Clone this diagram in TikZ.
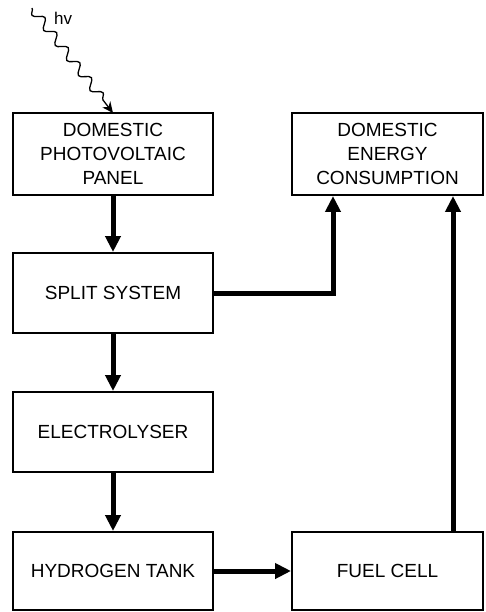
\documentclass[tikz,border=0pt]{standalone}
\usepackage{fontspec}
\setmainfont{Liberation Sans}
\usepackage{tikz}
\usetikzlibrary{arrows.meta,positioning,decorations.pathmorphing}

\begin{document}
\begin{tikzpicture}[x=1pt, y=-1pt,
    block/.style={draw, line width=2pt, align=center, inner sep=0pt,
      minimum height=80pt, font=\fontsize{19}{24}\selectfont},
    flow/.style={line width=5pt, -{Triangle[length=16pt,width=15pt]}},
    photon/.style={line width=1.3pt, -{Stealth[length=11pt,width=10pt]},
      decorate, decoration={snake, mirror, amplitude=4.5pt, segment length=19pt, post length=8pt}}]
  \useasboundingbox (0,0) rectangle (485,612);

  % left column
  \node[block, minimum width=200pt, minimum height=82pt] (pv) at (113,154) {DOMESTIC\\PHOTOVOLTAIC\\PANEL};
  \node[block, minimum width=200pt] (split) at (113,293) {SPLIT SYSTEM};
  \node[block, minimum width=200pt] (elec) at (113,432) {ELECTROLYSER};
  \node[block, minimum width=200pt, minimum height=78pt] (tank) at (113,571) {HYDROGEN TANK};

  % right column
  \node[block, minimum width=191pt, minimum height=82pt] (dec) at (387.5,154) {DOMESTIC\\ENERGY\\CONSUMPTION};
  \node[block, minimum width=191pt, minimum height=78pt] (fc) at (387.5,571) {FUEL CELL};

  % incoming light
  \coordinate (sun) at (32,8);
  \draw[photon] (sun) -- ([yshift=-1pt]pv.north);
  \node[font=\fontsize{17}{18}\selectfont, anchor=west, inner sep=0pt] (hv) at (54,18) {hv};

  % energy flows
  \draw[flow] (pv) -- (split);
  \draw[flow] (split.east) -| ([xshift=-54.5pt]dec.south);
  \draw[flow] (split) -- (elec);
  \draw[flow] (elec) -- (tank);
  \draw[flow] (tank) -- (fc);
  \draw[flow] ([xshift=65.5pt]fc.north) -- ([xshift=65.5pt]dec.south);
\end{tikzpicture}
\end{document}
